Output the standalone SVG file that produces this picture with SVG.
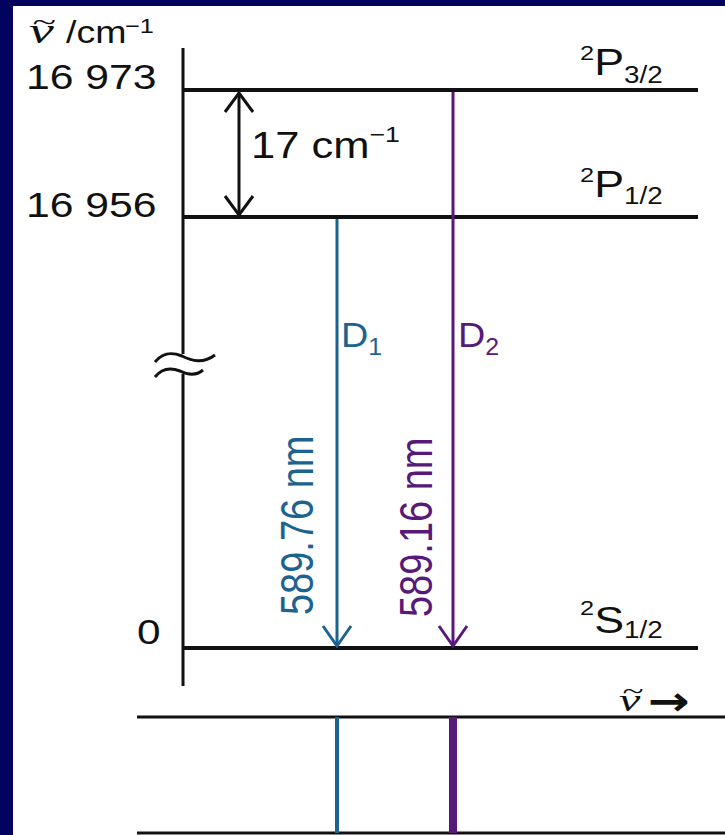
<svg xmlns="http://www.w3.org/2000/svg" width="725" height="835" viewBox="0 0 725 835">
<defs>
<style>
.t{font-family:"Liberation Sans",Arial,sans-serif;fill:#111}
.nu{font-family:"Liberation Serif","Times New Roman",serif;font-style:italic;fill:#111}
.lvl{stroke:#111;stroke-width:4;fill:none}
.ax{stroke:#111;stroke-width:3;fill:none}
.blue{fill:#1d6390}
.purp{fill:#57197a}
</style>
<marker id="hk" markerUnits="userSpaceOnUse" markerWidth="40" markerHeight="40" refX="0" refY="0" orient="auto-start-reverse" overflow="visible">
<path d="M-19,-14 L0,0 L-19,14" fill="none" stroke="#111" stroke-width="3"/>
</marker>
<marker id="hb" markerUnits="userSpaceOnUse" markerWidth="40" markerHeight="40" refX="0" refY="0" orient="auto" overflow="visible">
<path d="M-20,-14 L0,0 L-20,14" fill="none" stroke="#1d6390" stroke-width="3"/>
</marker>
<marker id="hp" markerUnits="userSpaceOnUse" markerWidth="40" markerHeight="40" refX="0" refY="0" orient="auto" overflow="visible">
<path d="M-20,-14 L0,0 L-20,14" fill="none" stroke="#57197a" stroke-width="3"/>
</marker>
</defs>
<rect x="0" y="0" width="725" height="835" fill="#02025f"/>
<rect x="13" y="6" width="712" height="829" fill="#ffffff"/>

<g id="axis">
<line class="ax" x1="183" y1="48" x2="183" y2="354"/>
<line class="ax" x1="183" y1="374" x2="183" y2="686"/>
<path class="ax" d="M155,362 C163,352 172,352 182,356 C192,361 203,364 215,355"/>
<path class="ax" d="M155,377 C162,368 170,367 180,371 C188,375 196,376 203,370"/>
<text class="nu" transform="translate(29,43) scale(1.55,1)"><tspan font-size="36">ν</tspan><tspan font-size="28" x="2" dy="-12.5">~</tspan></text>
<text class="t" font-size="31" transform="translate(66,43) scale(1.21,1)">/cm</text>
<text class="t" font-size="21" transform="translate(125,33) scale(1.21,1)">−1</text>
<text class="t" font-size="35" transform="translate(26,89) scale(1.22,1)">16 973</text>
<text class="t" font-size="35" transform="translate(26,217) scale(1.22,1)">16 956</text>
<text class="t" font-size="35" transform="translate(137,644) scale(1.21,1)">0</text>
</g>

<g id="level-P32">
<line class="lvl" x1="183" y1="90" x2="698" y2="90"/>
<text class="t" transform="translate(580,75) scale(1.21,1)"><tspan font-size="21" dy="-15">2</tspan><tspan font-size="37" dy="15">P</tspan><tspan font-size="23" dy="8">3/2</tspan></text>
</g>

<g id="level-P12">
<line class="lvl" x1="183" y1="217" x2="698" y2="217"/>
<text class="t" transform="translate(580,197) scale(1.21,1)"><tspan font-size="21" dy="-15">2</tspan><tspan font-size="37" dy="15">P</tspan><tspan font-size="23" dy="7">1/2</tspan></text>
</g>

<g id="level-S12">
<line class="lvl" x1="183" y1="648" x2="698" y2="648"/>
<text class="t" transform="translate(580,633) scale(1.21,1)"><tspan font-size="21" dy="-18">2</tspan><tspan font-size="37" dy="18">S</tspan><tspan font-size="23" dy="5">1/2</tspan></text>
</g>

<g id="connectors">
<line x1="239" y1="93" x2="239" y2="215" stroke="#111" stroke-width="3" marker-start="url(#hk)" marker-end="url(#hk)"/>
<line x1="337" y1="219" x2="337" y2="646" stroke="#1d6390" stroke-width="3" marker-end="url(#hb)"/>
<line x1="453" y1="92" x2="453" y2="646" stroke="#57197a" stroke-width="3" marker-end="url(#hp)"/>
</g>

<g id="labels">
<text class="t" transform="translate(251,158) scale(1.21,1)"><tspan font-size="36">17 cm</tspan><tspan font-size="22" dy="-16">−1</tspan></text>
<text class="t blue" transform="translate(341,347) scale(1.08,1)"><tspan font-size="35">D</tspan><tspan font-size="23" dy="8">1</tspan></text>
<text class="t purp" transform="translate(458,347) scale(1.08,1)"><tspan font-size="35">D</tspan><tspan font-size="23" dy="8">2</tspan></text>
<text class="t blue" font-size="38" transform="translate(313,615) scale(1.21,1) rotate(-90)">589.76 nm</text>
<text class="t purp" font-size="38" transform="translate(432,617) scale(1.21,1) rotate(-90)">589.16 nm</text>
</g>

<g id="spectrum">
<line class="ax" x1="137" y1="717" x2="725" y2="717"/>
<line class="ax" x1="137" y1="833" x2="725" y2="833"/>
<line x1="337" y1="717" x2="337" y2="833" stroke="#1d6390" stroke-width="4"/>
<line x1="453" y1="717" x2="453" y2="833" stroke="#57197a" stroke-width="8"/>
<text class="nu" transform="translate(619,711) scale(1.5,1)"><tspan font-size="32">ν</tspan><tspan font-size="26" x="2" dy="-12">~</tspan></text>
<text class="t" font-size="40" font-weight="bold" style="font-family:'DejaVu Sans',sans-serif" transform="translate(648,715) scale(1.25,1)">→</text>
</g>
</svg>
